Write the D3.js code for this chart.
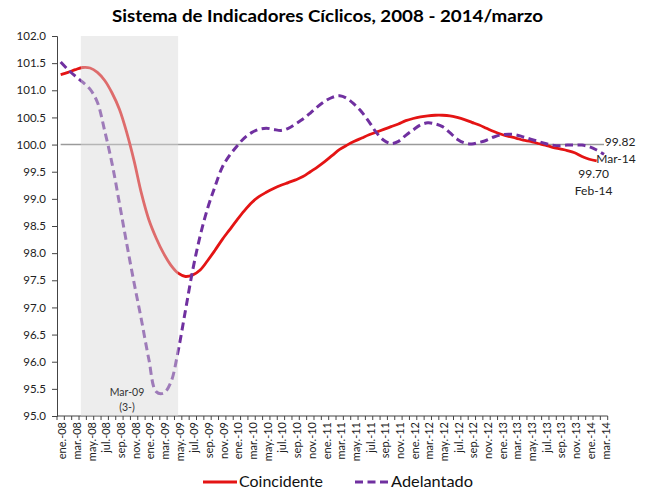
<!DOCTYPE html>
<html><head><meta charset="utf-8">
<script src="https://cdn.jsdelivr.net/npm/d3@7"></script>
<style>
body{margin:0;background:#fff;}
svg text{font-family:Lato,"Open Sans",sans-serif;}
</style></head>
<body><svg id="c" width="647" height="493"></svg>
<script>
const categories = ["ene.-08","feb.-08","mar.-08","abr.-08","may.-08","jun.-08","jul.-08","ago.-08","sep.-08","oct.-08","nov.-08","dic.-08",
"ene.-09","feb.-09","mar.-09","abr.-09","may.-09","jun.-09","jul.-09","ago.-09","sep.-09","oct.-09","nov.-09","dic.-09",
"ene.-10","feb.-10","mar.-10","abr.-10","may.-10","jun.-10","jul.-10","ago.-10","sep.-10","oct.-10","nov.-10","dic.-10",
"ene.-11","feb.-11","mar.-11","abr.-11","may.-11","jun.-11","jul.-11","ago.-11","sep.-11","oct.-11","nov.-11","dic.-11",
"ene.-12","feb.-12","mar.-12","abr.-12","may.-12","jun.-12","jul.-12","ago.-12","sep.-12","oct.-12","nov.-12","dic.-12",
"ene.-13","feb.-13","mar.-13","abr.-13","may.-13","jun.-13","jul.-13","ago.-13","sep.-13","oct.-13","nov.-13","dic.-13",
"ene.-14","feb.-14","mar.-14"];
const coincidente = [101.29,101.33,101.38,101.42,101.41,101.33,101.18,100.95,100.65,100.22,99.70,99.10,
98.62,98.28,98.00,97.78,97.63,97.57,97.60,97.69,97.86,98.05,98.25,98.43,
98.61,98.78,98.93,99.04,99.12,99.19,99.25,99.30,99.35,99.41,99.50,99.59,
99.69,99.80,99.91,99.99,100.06,100.12,100.18,100.23,100.28,100.33,100.38,100.44,
100.48,100.51,100.53,100.54,100.54,100.53,100.50,100.46,100.41,100.36,100.30,100.24,
100.19,100.15,100.12,100.08,100.06,100.02,99.99,99.95,99.92,99.89,99.85,99.78,
99.73,99.70];
const adelantado = [101.52,101.38,101.26,101.15,101.02,100.78,100.25,99.65,98.92,98.17,97.45,96.77,
96.05,95.45,95.42,95.62,96.20,96.95,97.70,98.32,98.82,99.22,99.58,99.80,
99.97,100.12,100.22,100.28,100.30,100.28,100.26,100.30,100.38,100.47,100.58,100.70,
100.80,100.87,100.90,100.85,100.74,100.60,100.42,100.22,100.08,100.02,100.06,100.17,
100.27,100.36,100.40,100.38,100.33,100.22,100.10,100.03,100.01,100.04,100.08,100.14,
100.18,100.19,100.18,100.14,100.10,100.06,100.02,99.99,99.98,99.99,99.99,99.99,
99.96,99.90,99.82];
const yTicks = [95.0,95.5,96.0,96.5,97.0,97.5,98.0,98.5,99.0,99.5,100.0,100.5,101.0,101.5,102.0];
const referenceLevel = 100;
const recession = {start: 2.75, end: 16.0};
const troughLabel = ["Mar-09","(3-)"];
const endLabels = {adelantado: "Mar-14", coincidente: "Feb-14"};
const title = "Sistema de Indicadores Cíclicos, 2008 - 2014/marzo";
const seriesNames = ["Coincidente","Adelantado"];

const svg = d3.select("#c");
const L = 57, R = 607.7, T = 36, B = 416;
const x = d3.scaleLinear().domain([-0.5, categories.length - 0.5]).range([L, R]);
const y = d3.scaleLinear().domain([95, 102]).range([B, T]);
const red = "#e41414", purple = "#7030a0";

// title
svg.append("text").attr("x", 327.5).attr("y", 22).attr("text-anchor","middle")
  .attr("font-size", 17).attr("font-weight", "bold").attr("fill","#000")
  .attr("textLength", 431).attr("lengthAdjust","spacingAndGlyphs").text(title);

// y axis
const ya = svg.append("g").attr("transform", `translate(${L},0)`)
  .call(d3.axisLeft(y).tickValues(yTicks).tickFormat(d3.format(".1f")).tickSize(5).tickPadding(6));
ya.select(".domain").attr("stroke","#444");
ya.selectAll(".tick line").attr("stroke","#444");
ya.selectAll("text").attr("font-size", 11.5).attr("fill","#222").style("font-family","Lato,sans-serif");

// x axis
const xa = svg.append("g").attr("transform", `translate(0,${B})`);
xa.append("line").attr("x1", L).attr("x2", R).attr("y1", 0).attr("y2", 0).attr("stroke","#444");
const tickIdx = d3.range(0, categories.length + 1);
xa.selectAll("line.t").data(tickIdx).join("line").attr("class","t")
  .attr("x1", d => x(d - 0.5)).attr("x2", d => x(d - 0.5)).attr("y1", 0).attr("y2", 4).attr("stroke","#444");
const labIdx = d3.range(0, categories.length, 2);
xa.selectAll("text").data(labIdx).join("text")
  .attr("transform", d => `translate(${x(d) + 5.5},6) rotate(-90)`)
  .attr("text-anchor","end").attr("font-size", 11).attr("fill","#222")
  .text(d => categories[d]);

// reference line
svg.append("line").attr("x1", x(0)).attr("x2", x(categories.length - 1))
  .attr("y1", y(referenceLevel)).attr("y2", y(referenceLevel)).attr("stroke","#9a9a9a").attr("stroke-width", 1.6);

const line = d3.line().x((d,i) => x(i)).y(d => y(d)).curve(d3.curveCatmullRom.alpha(0.5));
svg.append("path").attr("d", line(coincidente)).attr("fill","none").attr("stroke", red).attr("stroke-width", 2.8);
svg.append("path").attr("d", line(adelantado)).attr("fill","none").attr("stroke", purple).attr("stroke-width", 3)
  .attr("stroke-dasharray","8,4.5");

// recession shading overlay
svg.append("rect").attr("x", x(recession.start)).attr("y", T)
  .attr("width", x(recession.end) - x(recession.start)).attr("height", B - T)
  .attr("fill","rgb(215,215,215)").attr("fill-opacity", 0.45);

// annotation
svg.append("text").attr("x", 127).attr("y", 396).attr("text-anchor","middle")
  .attr("font-size", 10.5).attr("fill","#333").text(troughLabel[0]);
svg.append("text").attr("x", 127).attr("y", 411).attr("text-anchor","middle")
  .attr("font-size", 10.5).attr("fill","#333").text(troughLabel[1]);

// end labels
const ia = adelantado.length - 1, ic = coincidente.length - 1;
svg.append("text").attr("x", x(ia) + 16).attr("y", y(adelantado[ia]) - 8).attr("text-anchor","middle")
  .attr("font-size", 12).attr("fill","#222").text(adelantado[ia].toFixed(2));
svg.append("text").attr("x", x(ia) + 12).attr("y", y(adelantado[ia]) + 8.5).attr("text-anchor","middle")
  .attr("font-size", 12).attr("fill","#222").text(endLabels.adelantado);
svg.append("text").attr("x", x(ic) - 3).attr("y", y(coincidente[ic]) + 17).attr("text-anchor","middle")
  .attr("font-size", 12).attr("fill","#222").text(coincidente[ic].toFixed(2));
svg.append("text").attr("x", x(ic) - 3).attr("y", y(coincidente[ic]) + 34).attr("text-anchor","middle")
  .attr("font-size", 12).attr("fill","#222").text(endLabels.coincidente);

// legend
const lg = svg.append("g");
lg.append("line").attr("x1",203).attr("x2",237).attr("y1",482).attr("y2",482).attr("stroke",red).attr("stroke-width",3);
lg.append("text").attr("x",239).attr("y",487).attr("font-size",15).attr("fill","#111")
  .attr("textLength",84).attr("lengthAdjust","spacingAndGlyphs").text(seriesNames[0]);
lg.append("line").attr("x1",355).attr("x2",388).attr("y1",482).attr("y2",482).attr("stroke",purple).attr("stroke-width",3)
  .attr("stroke-dasharray","8,4.5");
lg.append("text").attr("x",391).attr("y",487).attr("font-size",15).attr("fill","#111")
  .attr("textLength",82).attr("lengthAdjust","spacingAndGlyphs").text(seriesNames[1]);
</script></body></html>
